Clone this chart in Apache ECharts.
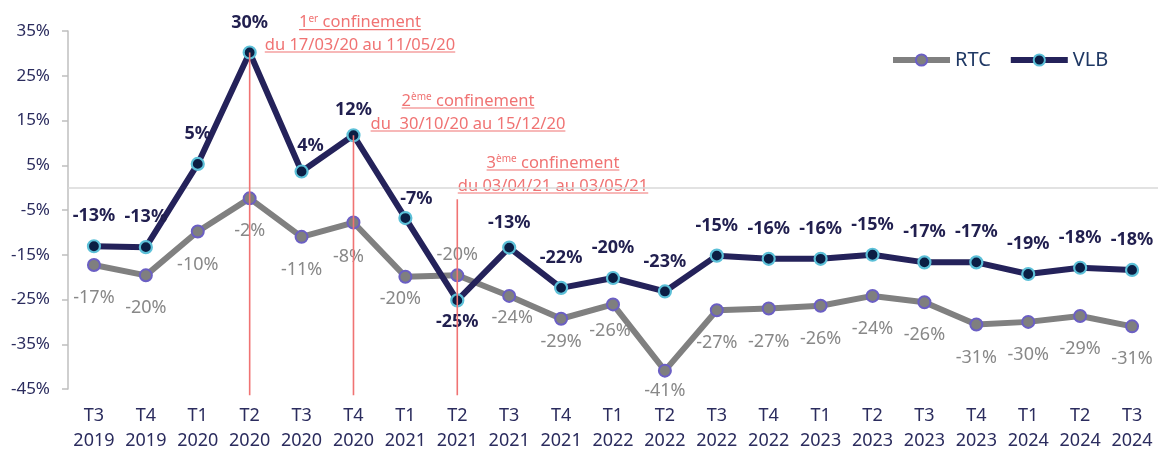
<!DOCTYPE html>
<html><head><meta charset="utf-8">
<script src="https://cdn.jsdelivr.net/npm/echarts@6/dist/echarts.min.js"></script>
<style>html,body{margin:0;padding:0;background:#fff}#c{width:1158px;height:453px}</style>
</head><body><div id="c"></div>
<script>
// ---------- DATA ----------
const categories = ['T3\n2019','T4\n2019','T1\n2020','T2\n2020','T3\n2020','T4\n2020','T1\n2021','T2\n2021','T3\n2021','T4\n2021','T1\n2022','T2\n2022','T3\n2022','T4\n2022','T1\n2023','T2\n2023','T3\n2023','T4\n2023','T1\n2024','T2\n2024','T3\n2024'];
const rtc = [-17.3,-19.6,-9.8,-2.4,-11.0,-7.8,-19.9,-19.6,-24.2,-29.3,-26.1,-40.9,-27.4,-27.0,-26.4,-24.2,-25.6,-30.6,-30.0,-28.7,-31.0];
const vlb = [-13.1,-13.3,5.3,30.2,3.6,11.7,-6.8,-25.2,-13.4,-22.4,-20.2,-23.2,-15.2,-15.9,-15.9,-15.0,-16.7,-16.7,-19.3,-17.9,-18.4];
const yMin = -45, yMax = 35, yStep = 10;
const confinementIndex = [3, 5, 7];
const confinementTop = [30.2, 11.7, -2.6];
const confinementBottom = -46.4;
const confinementNum = ['1', '2', '3'];
const confinementSup = ['er', 'ème', 'ème'];
const confinementWord = ' confinement';
const confinementDates = ['du 17/03/20 au 11/05/20', 'du  30/10/20 au 15/12/20', 'du 03/04/21 au 03/05/21'];

// ---------- STYLE ----------
const FONT = '"Noto Sans", sans-serif';
const NAVY = '#24225a';
const AXIS_TXT = '#2b2c5e';
const RED = '#f07373';
// label nudges (pixel offsets from the point centre)
const vlbNudge = {4:[9,-26],5:[0,-25],6:[11,-19],7:[0,21],8:[0,-25]};
const rtcNudge = {5:[-5,34],6:[-5,22],7:[0,-20],8:[3,22],9:[0,23],10:[-3,26],11:[0,20]};
const annLayout = [{cx:360,y1:22.7,y2:45},{cx:468,y1:101,y2:124},{cx:553,y1:163,y2:186}];
const ANN_SIZE = 16.5, SUP_SIZE = 10;

const ctx = document.createElement('canvas').getContext('2d');
function tw(t, s){ ctx.font = s + 'px ' + FONT; return ctx.measureText(t).width; }

const graphics = [];
annLayout.forEach((L, i) => {
  const w1 = tw(confinementNum[i], ANN_SIZE) + tw(confinementSup[i], SUP_SIZE) + tw(confinementWord, ANN_SIZE);
  const w2 = tw(confinementDates[i], ANN_SIZE);
  graphics.push({type:'text', silent:true, style:{
    text:'{a|' + confinementNum[i] + '}{s|' + confinementSup[i] + '}{a|' + confinementWord + '}',
    x:L.cx, y:L.y1, textAlign:'center', textVerticalAlign:'middle', fill:RED,
    rich:{a:{fontSize:ANN_SIZE, fontFamily:FONT, fill:RED, verticalAlign:'bottom'}, s:{fontSize:SUP_SIZE, fontFamily:FONT, fill:RED, verticalAlign:'top'}}
  }});
  graphics.push({type:'line', silent:true, shape:{x1:L.cx - w1/2, y1:L.y1+7, x2:L.cx + w1/2, y2:L.y1+7}, style:{stroke:RED, lineWidth:1.2}});
  graphics.push({type:'text', silent:true, style:{text:confinementDates[i], x:L.cx, y:L.y2, textAlign:'center', textVerticalAlign:'middle', fill:RED, font: ANN_SIZE + 'px ' + FONT}});
  graphics.push({type:'line', silent:true, shape:{x1:L.cx - w2/2, y1:L.y2+7, x2:L.cx + w2/2, y2:L.y2+7}, style:{stroke:RED, lineWidth:1.2}});
});

const chart = echarts.init(document.getElementById('c'), null, {renderer:'canvas'});
chart.setOption({
  animation:false,
  backgroundColor:'#fff',
  textStyle:{fontFamily:FONT},
  grid:{left:68, right:-4, top:31, bottom:62, containLabel:false},
  legend:{data:['RTC','VLB'], left:890, top:50, padding:0, itemWidth:57, itemHeight:14, itemGap:17,
    lineStyle:{width:6},
    textStyle:{color:'#1f3864', fontSize:20, fontFamily:FONT}},
  xAxis:{type:'category', data:categories, boundaryGap:true,
    axisLine:{show:false}, axisTick:{show:false}, splitLine:{show:false},
    axisLabel:{interval:0, color:AXIS_TXT, fontSize:18, lineHeight:25, margin:14, fontFamily:FONT}},
  yAxis:{type:'value', min:yMin, max:yMax, interval:yStep,
    axisLine:{show:true, lineStyle:{color:'#bfbfbf', width:1.5}},
    axisTick:{show:true, length:6, lineStyle:{color:'#bfbfbf', width:1.5}},
    splitLine:{show:false},
    axisLabel:{formatter:v => v + '%', color:AXIS_TXT, fontSize:17, margin:18, fontFamily:FONT}},
  graphic:graphics,
  series:[
    {name:'RTC', type:'line', z:2,
      data:rtc.map((v,i) => ({value:v, label:{offset:rtcNudge[i] || [0,33]}})),
      symbol:'circle', symbolSize:12,
      lineStyle:{color:'#808080', width:6},
      itemStyle:{color:'#7f7f7f', borderColor:'#6b5fc4', borderWidth:2},
      label:{show:true, position:'inside', formatter:p => Math.round(p.value) + '%', color:'#888888', fontSize:18, fontFamily:FONT},
      markLine:{silent:true, z:1, symbol:'none', label:{show:false}, lineStyle:{color:'#d9d9d9', type:'solid', width:1.5}, data:[{yAxis:0}]}
    },
    {name:'VLB', type:'line', z:3,
      data:vlb.map((v,i) => ({value:v, label:{offset:vlbNudge[i] || [0,-30]}})),
      symbol:'circle', symbolSize:12,
      lineStyle:{color:NAVY, width:6},
      itemStyle:{color:'#0b1e44', borderColor:'#5cc0d8', borderWidth:2.2},
      label:{show:true, position:'inside', formatter:p => Math.round(p.value) + '%', color:'#211f4f', fontSize:18, fontWeight:'bold', fontFamily:FONT}
    },
    {name:'confinement', type:'custom', z:10, silent:true, clip:false,
      data:confinementIndex.map((c,i) => [c, confinementTop[i], confinementBottom]),
      encode:{x:0, y:1},
      renderItem:(params, api) => {
        const p1 = api.coord([api.value(0), api.value(1)]);
        const p2 = api.coord([api.value(0), api.value(2)]);
        return {type:'line', shape:{x1:p1[0], y1:p1[1], x2:p2[0], y2:p2[1]}, style:{stroke:RED, lineWidth:1.6}};
      }
    }
  ]
});
</script></body></html>
